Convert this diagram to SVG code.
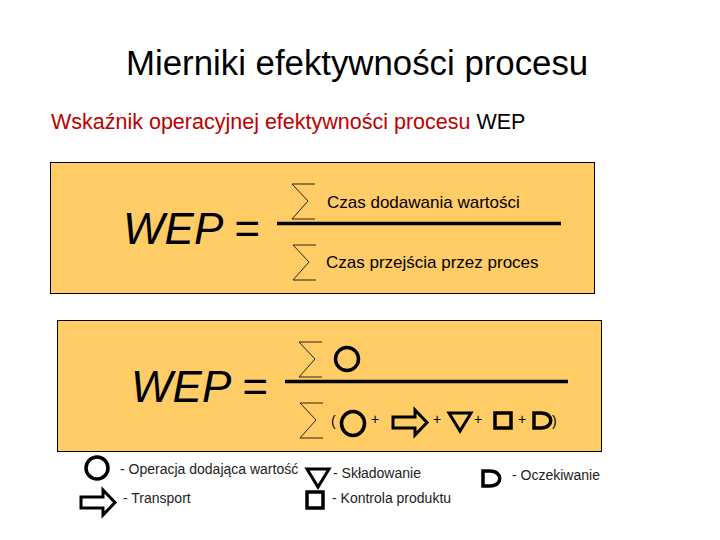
<svg xmlns="http://www.w3.org/2000/svg" width="720" height="540" viewBox="0 0 720 540">
<style>
text{font-family:"Liberation Sans",Arial,sans-serif;fill:#000}
.panel{fill:#ffcc66;stroke:#000;stroke-width:1}
.bar{stroke:#000;stroke-width:3.500;fill:none}
.sig{fill:none;stroke:#1a1208;stroke-width:.9}
.sym{fill:none;stroke:#000;stroke-width:3.500}
.thin{stroke-width:3}
.eq{font-size:44px;font-style:italic}
.s{font-size:17px}
.l{font-size:14px;fill:#222}
.p{font-size:14px}
</style>
<defs>
<path id="sigma" class="sig" d="M23 0H0L16 17L0 35H23"/>
<path id="arrow" class="sym thin" d="M2 10H24V3L36 15.500L24 28V21H2Z"/>
<path id="tri" class="sym thin" d="M3 2H25L14 20Z"/>
<path id="dd" class="sym" d="M2 2H9C22 2 22 17 9 17H2Z"/>
</defs>
<rect width="720" height="540" fill="#fff"/>
<text x="126" y="75" font-size="34.800">Mierniki efektywności procesu</text>
<text x="51" y="129" font-size="21.500"><tspan fill="#c00000">Wskaźnik operacyjnej efektywności procesu</tspan> WEP</text>
<g id="panel-1">
<rect class="panel" x="50.500" y="162.500" width="544" height="131"/>
<text class="eq" x="123" y="244">WEP =</text>
<use href="#sigma" x="292" y="184"/>
<text class="s" x="327" y="208">Czas dodawania wartości</text>
<path class="bar" d="M277 223.500H561"/>
<use href="#sigma" x="293" y="245"/>
<text class="s" x="326" y="268">Czas przejścia przez proces</text>
</g>
<g id="panel-2">
<rect class="panel" x="57.500" y="320.500" width="544" height="131"/>
<text class="eq" x="131" y="402">WEP =</text>
<use href="#sigma" x="299" y="342"/>
<circle class="sym" cx="347" cy="359" r="11.500"/>
<path class="bar" d="M285 381.500H568"/>
<use href="#sigma" x="300" y="403"/>
<text class="p" x="331" y="426">(</text>
<ellipse class="sym" cx="353" cy="423.500" rx="11.500" ry="12"/>
<text class="p" x="371" y="424">+</text>
<use href="#arrow" x="391" y="407"/>
<text class="p" x="433" y="424">+</text>
<use href="#tri" x="446" y="411"/>
<text class="p" x="474" y="424">+</text>
<rect class="sym" x="495" y="413" width="16" height="15"/>
<text class="p" x="518" y="424">+</text>
<use href="#dd" x="532" y="411"/>
<text class="p" x="552" y="426">)</text>
</g>
<g id="legend-operacja">
<circle class="sym" cx="97" cy="468" r="11"/>
<text class="l" x="120" y="474">- Operacja dodająca wartość</text>
</g>
<g id="legend-transport">
<use href="#arrow" x="79" y="487"/>
<text class="l" x="123" y="503">- Transport</text>
</g>
<g id="legend-skladowanie">
<use href="#tri" x="304" y="467"/>
<text class="l" x="333" y="478">- Składowanie</text>
</g>
<g id="legend-kontrola">
<rect class="sym" x="307" y="492" width="16" height="16"/>
<text class="l" x="332" y="503">- Kontrola produktu</text>
</g>
<g id="legend-oczekiwanie">
<use href="#dd" x="481" y="469"/>
<text class="l" x="512" y="480">- Oczekiwanie</text>
</g>
</svg>
